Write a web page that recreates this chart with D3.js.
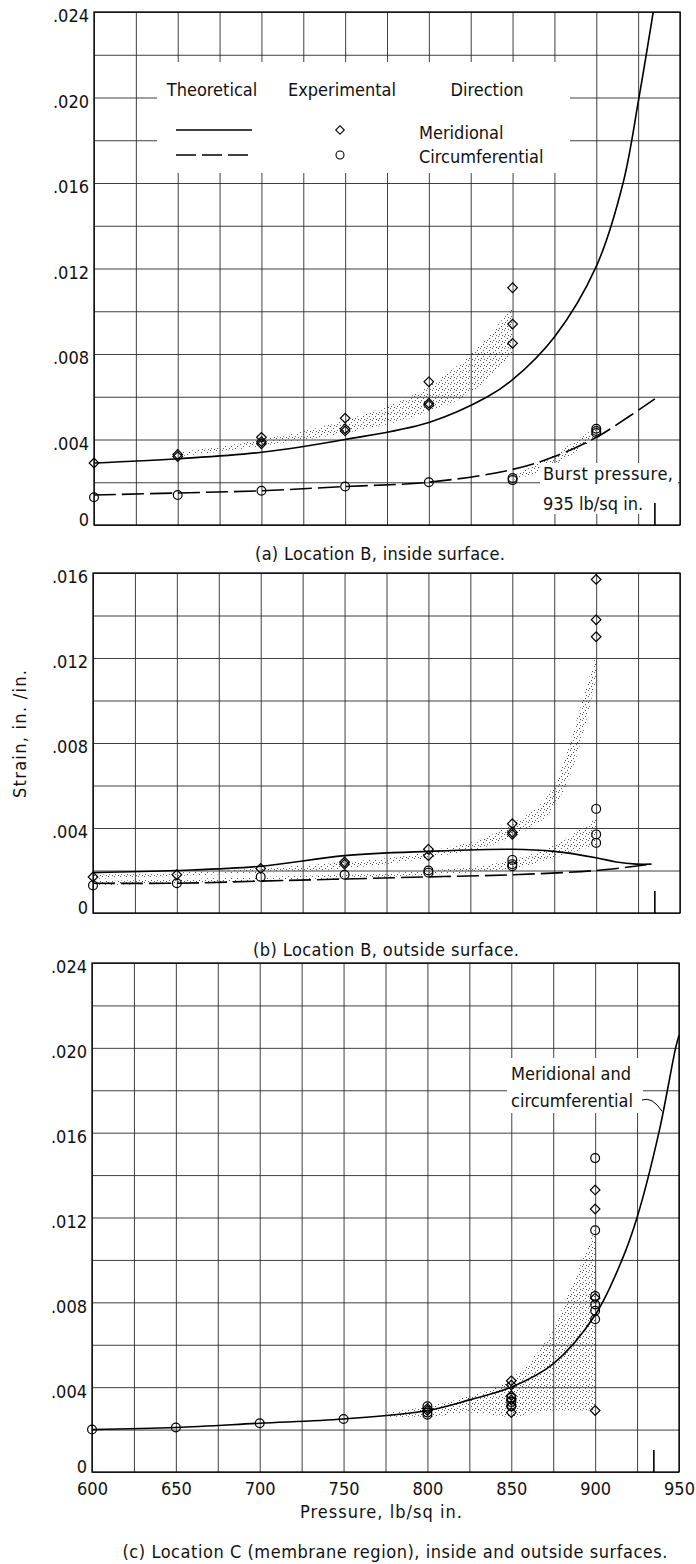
<!DOCTYPE html>
<html>
<head>
<meta charset="utf-8">
<script src="https://cdn.jsdelivr.net/npm/d3@7/dist/d3.min.js"></script>
<style>
  body { margin: 0; background: #fff; }
  svg text { font-family: "DejaVu Sans Condensed", "DejaVu Sans", sans-serif; font-stretch: condensed; font-size: 18px; fill: #111; }
</style>
</head>
<body>
<svg id="chart" width="696" height="1564"></svg>
<script>
// ---- axis values ----
var pressureGrid = [600, 625, 650, 675, 700, 725, 750, 775, 800, 825, 850, 875, 900, 925, 950];
var pressureTicks = [600, 650, 700, 750, 800, 850, 900, 950];
var strainGrid24 = [0, .002, .004, .006, .008, .010, .012, .014, .016, .018, .020, .022, .024];
var strainGrid16 = [0, .002, .004, .006, .008, .010, .012, .014, .016];
var strainTicks24 = [0, .004, .008, .012, .016, .020, .024];
var strainTicks16 = [0, .004, .008, .012, .016];
var burstPressure = 935;

// ---- (a) location B, inside surface ----
var aMeridTheory = [[600, .0029], [650, .0031], [700, .0034], [750, .0040], [800, .0048], [835, .0060], [850, .0068],
  [875, .0088], [900, .0121], [916, .0160], [925.5, .0200], [934, .0240]];
var aCircTheory = [[600, .0014], [650, .0015], [700, .0016], [750, .0018], [800, .0020], [850, .0026], [875, .0032],
  [900, .0041], [920, .0051], [935, .0059]];
var aMeridExp = [[600, .0029], [650, .0033], [650, .0032], [700, .0041], [700, .0039], [700, .0038], [750, .0050],
  [750, .0045], [750, .0044], [800, .0067], [800, .0057], [800, .0056], [850, .0111], [850, .0094], [850, .0085]];
var aCircExp = [[600, .0013], [650, .0014], [700, .0016], [750, .0018], [800, .0020], [850, .0022], [850, .0021],
  [900, .0045], [900, .0044], [900, .0043]];
var aMeridBand = [[650, .0032, .0034], [700, .0037, .0040], [750, .0043, .0049], [800, .0053, .0065], [825, .0062, .0080], [850, .0080, .0102]];
var aCircBand = [[850, .0021, .0023], [875, .0028, .0033], [900, .0041, .0046]];

// ---- (b) location B, outside surface ----
var bMeridTheory = [[600, .0019], [650, .0020], [700, .0022], [750, .0027], [800, .0029], [850, .0030], [875, .0029],
  [900, .0026], [912, .0024], [924, .0023], [933, .0023]];
var bCircTheory = [[600, .0014], [650, .0014], [700, .0015], [750, .0016], [800, .0017], [850, .0018], [900, .0020], [933, .0023]];
var bMeridExp = [[600, .0017], [650, .0018], [700, .0021], [750, .0024], [750, .0023], [800, .0030], [800, .0027],
  [850, .0042], [850, .0038], [850, .0037], [900, .0157], [900, .0138], [900, .0130]];
var bCircExp = [[600, .0013], [650, .0014], [700, .0017], [750, .0018], [800, .0020], [800, .0019], [850, .0025],
  [850, .0023], [850, .0022], [900, .0049], [900, .0037], [900, .0033]];
var bMeridBand = [[600, .0016, .0018], [700, .0019, .0021], [750, .0021, .0024], [800, .0026, .0029], [850, .0036, .0042],
  [875, .0050, .0060], [890, .0078, .0095], [900, .0110, .0122]];
var bCircBand = [[600, .0013, .0015], [700, .0015, .0017], [800, .0018, .0020], [850, .0021, .0025], [875, .0026, .0032], [900, .0032, .0045]];

// ---- (c) location C, membrane region ----
var cTheory = [[600, .0020], [650, .0021], [700, .0023], [750, .0025], [800, .0029], [825, .0034], [850, .0040],
  [875, .0051], [900, .0074], [916, .0100], [925, .0120], [938, .0160], [948, .0200], [950, .0206]];
var cMeridExp = [[800, .0030], [800, .0029], [850, .0043], [850, .0041], [850, .0036], [850, .0034], [850, .0031],
  [850, .0028], [900, .0133], [900, .0124], [900, .0082], [900, .0029]];
var cCircExp = [[600, .0020], [650, .0021], [700, .0023], [750, .0025], [800, .0031], [800, .0028], [800, .0027],
  [850, .0035], [850, .0033], [850, .0031], [900, .0148], [900, .0114], [900, .0083], [900, .0079], [900, .0076], [900, .0072]];
var cBand = [[775, .0026, .0028], [800, .0026, .0031], [825, .0028, .0036], [850, .0026, .0044], [875, .0029, .0068],
  [890, .0029, .0095], [900, .0029, .0115]];

var svg = d3.select("#chart");
var defs = svg.append("defs");

// stipple for the scatter bands
var pat = defs.append("pattern").attr("id", "stipple")
  .attr("patternUnits", "userSpaceOnUse").attr("width", 6).attr("height", 6);
[[0, 0], [3, 2], [1, 4], [4, 5]].forEach(function (d) {
  pat.append("rect").attr("x", d[0]).attr("y", d[1]).attr("width", 1).attr("height", 1).attr("fill", "#555");
});

var fmt = function (v) { return v === 0 ? "0" : d3.format(".3f")(v).slice(1); };

function drawPanel(p) {
  var x = d3.scaleLinear().domain([600, 950]).range([p.left, p.right]);
  var y = d3.scaleLinear().domain([0, p.yMax]).range([p.bottom, p.top]);
  var g = svg.append("g");
  var w = p.right - p.left, h = p.bottom - p.top;

  defs.append("clipPath").attr("id", "clip-" + p.id)
    .append("rect").attr("x", p.left).attr("y", p.top).attr("width", w).attr("height", h);

  // grid
  g.append("g").attr("transform", "translate(0," + p.bottom + ")")
    .call(d3.axisBottom(x).tickValues(pressureGrid).tickSize(-h).tickFormat(""))
    .call(function (s) { s.select(".domain").remove(); })
    .selectAll(".tick line").attr("stroke", "#2a2a2a").attr("stroke-width", 0.9);
  g.append("g").attr("transform", "translate(" + p.left + ",0)")
    .call(d3.axisLeft(y).tickValues(p.grid).tickSize(-w).tickFormat(""))
    .call(function (s) { s.select(".domain").remove(); })
    .selectAll(".tick line").attr("stroke", "#2a2a2a").attr("stroke-width", 0.9);

  var plot = g.append("g").attr("clip-path", "url(#clip-" + p.id + ")");

  var area = d3.area()
    .x(function (d) { return x(d[0]); })
    .y0(function (d) { return y(d[1]); })
    .y1(function (d) { return y(d[2]); })
    .curve(d3.curveMonotoneX);
  p.bands.forEach(function (b) {
    plot.append("path").datum(b).attr("d", area).attr("fill", "url(#stipple)");
  });

  if (p.extra) p.extra(g, x, y);

  var line = d3.line()
    .x(function (d) { return x(d[0]); })
    .y(function (d) { return y(d[1]); })
    .curve(d3.curveCatmullRom.alpha(0.5));
  p.lines.forEach(function (l) {
    plot.append("path").datum(l.data).attr("d", line)
      .attr("fill", "none").attr("stroke", "#000").attr("stroke-width", 1.6)
      .attr("stroke-dasharray", l.dash || null);
  });

  // experimental points
  g.append("g").selectAll("path").data(p.diamonds).enter().append("path")
    .attr("d", d3.symbol().type(d3.symbolSquare).size(46))
    .attr("transform", function (d) { return "translate(" + x(d[0]) + "," + y(d[1]) + ") rotate(45)"; })
    .attr("fill", "none").attr("stroke", "#000").attr("stroke-width", 1.2);
  g.append("g").selectAll("circle").data(p.circles).enter().append("circle")
    .attr("cx", function (d) { return x(d[0]); })
    .attr("cy", function (d) { return y(d[1]); })
    .attr("r", 4.4)
    .attr("fill", "none").attr("stroke", "#000").attr("stroke-width", 1.2);

  // burst pressure mark
  g.append("line")
    .attr("x1", x(burstPressure)).attr("x2", x(burstPressure))
    .attr("y1", p.bottom).attr("y2", p.bottom - 22)
    .attr("stroke", "#000").attr("stroke-width", 1.6);

  // frame
  g.append("rect").attr("x", p.left).attr("y", p.top).attr("width", w).attr("height", h)
    .attr("fill", "none").attr("stroke", "#000").attr("stroke-width", 1.3);

  // strain labels
  var ya = g.append("g").attr("transform", "translate(" + p.left + ",0)")
    .call(d3.axisLeft(y).tickValues(p.ticks).tickSize(0).tickPadding(5).tickFormat(fmt));
  ya.attr("font-size", null).attr("font-family", null);
  ya.select(".domain").remove();
  ya.selectAll("text").attr("dy", function (d) { return d === 0 ? "0em" : "0.55em"; });

  if (p.xLabels) {
    var xa = g.append("g").attr("transform", "translate(0," + p.bottom + ")")
      .call(d3.axisBottom(x).tickValues(pressureTicks).tickSize(0).tickPadding(10).tickFormat(d3.format("d")));
    xa.attr("font-size", null).attr("font-family", null);
    xa.select(".domain").remove();
  }

  g.append("text").attr("x", p.capX).attr("y", p.capY).attr("text-anchor", "middle")
    .attr("textLength", p.capW).attr("lengthAdjust", "spacing").text(p.caption);
  return { x: x, y: y };
}

drawPanel({
  id: "a", left: 94, right: 680, top: 12, bottom: 525, yMax: .024,
  grid: strainGrid24, ticks: strainTicks24,
  bands: [aMeridBand, aCircBand],
  lines: [{ data: aMeridTheory }, { data: aCircTheory, dash: "22,6" }],
  diamonds: aMeridExp, circles: aCircExp,
  caption: "(a) Location B,  inside surface.", capX: 380, capY: 560, capW: 250,
  extra: function (g, x, y) {
    // legend
    g.append("rect").attr("x", 157).attr("y", 62).attr("width", 413).attr("height", 111).attr("fill", "#fff");
    g.append("text").attr("x", 212).attr("y", 96).attr("text-anchor", "middle").text("Theoretical");
    g.append("text").attr("x", 342).attr("y", 96).attr("text-anchor", "middle").text("Experimental");
    g.append("text").attr("x", 487).attr("y", 96).attr("text-anchor", "middle").text("Direction");
    g.append("line").attr("x1", 176).attr("x2", 252).attr("y1", 130).attr("y2", 130)
      .attr("stroke", "#000").attr("stroke-width", 1.5);
    g.append("line").attr("x1", 176).attr("x2", 252).attr("y1", 155).attr("y2", 155)
      .attr("stroke", "#000").attr("stroke-width", 1.5).attr("stroke-dasharray", "20,6");
    g.append("path").attr("d", d3.symbol().type(d3.symbolSquare).size(36))
      .attr("transform", "translate(340,130) rotate(45)")
      .attr("fill", "none").attr("stroke", "#000").attr("stroke-width", 1.1);
    g.append("circle").attr("cx", 340).attr("cy", 155).attr("r", 4)
      .attr("fill", "none").attr("stroke", "#000").attr("stroke-width", 1.1);
    g.append("text").attr("x", 419).attr("y", 139).text("Meridional");
    g.append("text").attr("x", 419).attr("y", 163).text("Circumferential");
    // burst pressure note
    g.append("rect").attr("x", 540).attr("y", 463).attr("width", 138).attr("height", 51).attr("fill", "#fff");
    g.append("text").attr("x", 543).attr("y", 480).attr("textLength", 130).text("Burst pressure,");
    g.append("text").attr("x", 543).attr("y", 510).text("935 lb/sq in.");
  }
});

drawPanel({
  id: "b", left: 93, right: 680, top: 573, bottom: 913, yMax: .016,
  grid: strainGrid16, ticks: strainTicks16,
  bands: [bMeridBand, bCircBand],
  lines: [{ data: bMeridTheory }, { data: bCircTheory, dash: "22,6" }],
  diamonds: bMeridExp, circles: bCircExp,
  caption: "(b) Location B,  outside surface.", capX: 386, capY: 956, capW: 266
});

drawPanel({
  id: "c", left: 92, right: 679, top: 963, bottom: 1472, yMax: .024,
  grid: strainGrid24, ticks: strainTicks24,
  bands: [cBand],
  lines: [{ data: cTheory }],
  diamonds: cMeridExp, circles: cCircExp,
  xLabels: true,
  caption: "(c) Location C (membrane region),  inside and outside surfaces.", capX: 395, capY: 1558, capW: 545,
  extra: function (g, x, y) {
    g.append("rect").attr("x", 507).attr("y", 1058).attr("width", 136).attr("height", 55).attr("fill", "#fff");
    g.append("text").attr("x", 511).attr("y", 1080).text("Meridional and");
    g.append("text").attr("x", 511).attr("y", 1107).text("circumferential");
    g.append("path")
      .attr("d", "M642,1100 Q652,1096 " + x(940) + "," + y(.0170))
      .attr("fill", "none").attr("stroke", "#000").attr("stroke-width", 1);
  }
});

// shared axis titles
svg.append("text").attr("transform", "translate(26,734) rotate(-90)")
  .attr("text-anchor", "middle").attr("textLength", 128).attr("lengthAdjust", "spacing")
  .text("Strain, in. /in.");
svg.append("text").attr("x", 381).attr("y", 1518)
  .attr("text-anchor", "middle").attr("textLength", 162).attr("lengthAdjust", "spacing")
  .text("Pressure,  lb/sq in.");
</script>
</body>
</html>
